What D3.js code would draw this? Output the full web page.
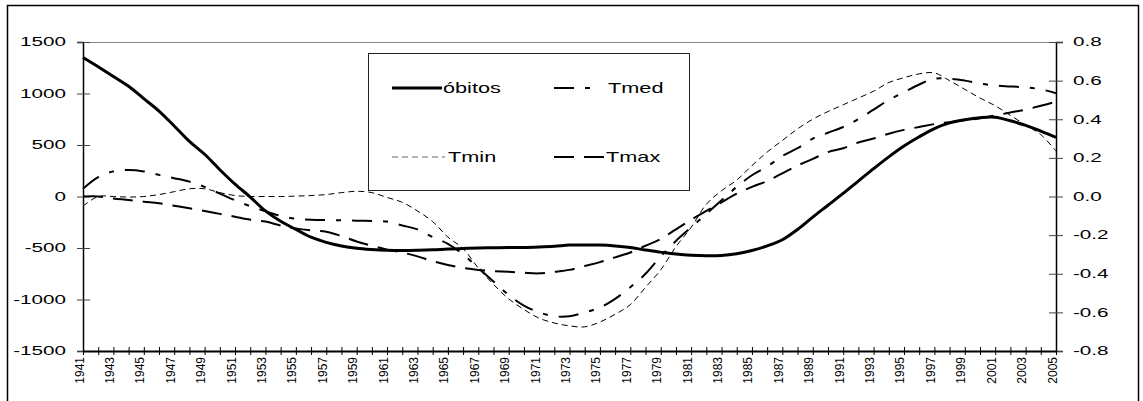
<!DOCTYPE html>
<html>
<head>
<meta charset="utf-8">
<script src="https://cdn.jsdelivr.net/npm/d3@7"></script>
<style>
  body { margin: 0; background: #fff; }
  text { font-family: "Liberation Sans", Arial, sans-serif; fill: #000; }
</style>
</head>
<body>
<svg id="chart" width="1143" height="401"></svg>
<script>
// years on the category axis
const years = d3.range(1941, 2006)

// deaths (left axis)
const obitos = [1350, 1260, 1165, 1070, 950, 830, 685, 535, 410, 260,
  120, -5, -140, -240, -320, -395, -445, -480, -503, -515,
  -522, -524, -522, -518, -510, -505, -500, -498, -496, -495,
  -490, -483, -472, -470, -472, -480, -495, -520, -540, -558,
  -570, -575, -572, -555, -525, -480, -420, -320, -200, -85,
  30, 150, 270, 385, 490, 580, 660, 715, 745, 765,
  770, 735, 690, 635, 575]

// temperature anomalies (right axis)
const tmed = [0.04, 0.10, 0.13, 0.137, 0.13, 0.112, 0.095, 0.077, 0.05, 0.015,
  -0.02, -0.05, -0.077, -0.10, -0.115, -0.12, -0.122, -0.123, -0.125, -0.127,
  -0.13, -0.15, -0.17, -0.21, -0.245, -0.30, -0.37, -0.44, -0.51, -0.565,
  -0.60, -0.62, -0.62, -0.60, -0.575, -0.53, -0.47, -0.40, -0.31, -0.23,
  -0.16, -0.09, -0.02, 0.05, 0.11, 0.155, 0.21, 0.25, 0.30, 0.33,
  0.36, 0.40, 0.45, 0.50, 0.54, 0.58, 0.61, 0.61, 0.60, 0.585,
  0.575, 0.57, 0.565, 0.555, 0.535]

const tmin = [-0.05, 0.0, 0.0, -0.003, 0.0, 0.01, 0.025, 0.04, 0.04, 0.02,
  0.005, 0.0, 0.0, 0.0, 0.002, 0.005, 0.01, 0.02, 0.027, 0.02,
  -0.005, -0.03, -0.075, -0.13, -0.21, -0.27, -0.37, -0.455, -0.53, -0.585,
  -0.63, -0.655, -0.67, -0.675, -0.65, -0.61, -0.56, -0.47, -0.38, -0.26,
  -0.16, -0.04, 0.03, 0.085, 0.16, 0.23, 0.29, 0.35, 0.40, 0.44,
  0.475, 0.51, 0.545, 0.59, 0.615, 0.635, 0.64, 0.60, 0.555, 0.51,
  0.47, 0.42, 0.37, 0.32, 0.235]

const tmax = [0.0, 0.0, -0.01, -0.018, -0.027, -0.035, -0.048, -0.061, -0.075, -0.09,
  -0.105, -0.12, -0.13, -0.15, -0.165, -0.175, -0.182, -0.205, -0.233, -0.255,
  -0.275, -0.29, -0.31, -0.335, -0.355, -0.37, -0.38, -0.386, -0.39, -0.395,
  -0.398, -0.39, -0.38, -0.36, -0.34, -0.315, -0.29, -0.255, -0.22, -0.17,
  -0.12, -0.075, -0.03, 0.015, 0.05, 0.08, 0.12, 0.16, 0.195, 0.23,
  0.25, 0.28, 0.30, 0.325, 0.345, 0.36, 0.375, 0.385, 0.395, 0.405,
  0.42, 0.435, 0.45, 0.47, 0.49]

const leftTicks = [-1500, -1000, -500, 0, 500, 1000, 1500]
const rightTicks = [-0.8, -0.6, -0.4, -0.2, 0.0, 0.2, 0.4, 0.6, 0.8]
const yearLabels = years.filter(y => (y - 1941) % 2 === 0)

const svg = d3.select('#chart')

// outer frame
svg.append('rect')
  .attr('x', 7.5).attr('y', 5.5).attr('width', 1131).attr('height', 402)
  .attr('fill', 'none').attr('stroke', '#000').attr('stroke-width', 1.5)

const plotLeft = 83
const plotRight = 1056
const plotTop = 42
const plotBottom = 351

const x = d3.scalePoint().domain(years).range([plotLeft, plotRight])
const yL = d3.scaleLinear().domain([-1500, 1500]).range([plotBottom, plotTop])
const yR = d3.scaleLinear().domain([-0.8, 0.8]).range([plotBottom, plotTop])

// top edge of plot area
svg.append('line')
  .attr('x1', plotLeft).attr('x2', plotRight).attr('y1', plotTop + 0.5).attr('y2', plotTop + 0.5)
  .attr('stroke', '#888').attr('stroke-width', 1)

// left axis
const gl = svg.append('g').attr('transform', `translate(${plotLeft},0)`)
  .call(d3.axisLeft(yL).tickValues(leftTicks).tickFormat('').tickSize(6))
gl.select('.domain').attr('stroke-width', 1.5)
gl.selectAll('.tick line').attr('x1', 7).attr('x2', -6).attr('stroke', '#444')

svg.selectAll('.lab-left')
  .data(leftTicks)
  .join('text')
  .attr('class', 'lab-left')
  .attr('transform', d => `translate(66,${yL(d)}) scale(1.72,1)`)
  .attr('text-anchor', 'end')
  .attr('dy', '0.36em')
  .style('font-size', '12px')
  .text(d => String(d))

// right axis
const gr = svg.append('g').attr('transform', `translate(${plotRight},0)`)
  .call(d3.axisRight(yR).tickValues(rightTicks).tickFormat('').tickSize(7))
gr.select('.domain').attr('stroke-width', 1.5)
gr.selectAll('.tick line').attr('x1', -7).attr('x2', 7).attr('stroke', '#444')

svg.selectAll('.lab-right')
  .data(rightTicks)
  .join('text')
  .attr('class', 'lab-right')
  .attr('transform', d => `translate(1073,${yR(d)}) scale(1.72,1)`)
  .attr('dy', '0.36em')
  .style('font-size', '12px')
  .text(d => d.toFixed(1))

// bottom axis
const gx = svg.append('g').attr('transform', `translate(0,${plotBottom})`)
  .call(d3.axisBottom(x).tickFormat('').tickSize(4).tickSizeOuter(0))
gx.select('.domain').attr('stroke-width', 2)
gx.selectAll('.tick line').attr('y1', -4).attr('y2', 4)

svg.selectAll('.lab-year')
  .data(yearLabels)
  .join('text')
  .attr('class', 'lab-year')
  .attr('transform', d => `translate(${x(d) + 0.5},357) rotate(-90)`)
  .attr('text-anchor', 'end')
  .style('font-size', '12px')
  .text(d => d)

// series
const series = [
  { name: 'óbitos', values: obitos, y: yL, width: 3, dash: null },
  { name: 'Tmed', values: tmed, y: yR, width: 2, dash: '20,11,5,11' },
  { name: 'Tmin', values: tmin, y: yR, width: 1, dash: '6,4' },
  { name: 'Tmax', values: tmax, y: yR, width: 2, dash: '20,10' }
]

series.forEach(s => {
  const line = d3.line()
    .x((d, i) => x(years[i]))
    .y(d => s.y(d))
    .curve(d3.curveCatmullRom.alpha(0.5))
  svg.append('path')
    .datum(s.values)
    .attr('d', line)
    .attr('fill', 'none')
    .attr('stroke', '#000')
    .attr('stroke-width', s.width)
    .attr('stroke-dasharray', s.dash)
})

// legend
svg.append('rect')
  .attr('x', 368.5).attr('y', 53.5).attr('width', 321).attr('height', 137)
  .attr('fill', '#fff').attr('stroke', '#222').attr('stroke-width', 1)

const legendPos = [
  { x1: 392, x2: 442, tx: 443, y: 88 },
  { x1: 554, x2: 592, tx: 608, y: 88 },
  { x1: 392, x2: 445, tx: 448, y: 157 },
  { x1: 554, x2: 605, tx: 606, y: 157 }
]

series.forEach((s, i) => {
  const p = legendPos[i]
  svg.append('line')
    .attr('x1', p.x1).attr('x2', p.x2).attr('y1', p.y).attr('y2', p.y)
    .attr('stroke', s.name === 'Tmin' ? '#666' : '#000')
    .attr('stroke-width', s.width)
    .attr('stroke-dasharray', s.dash)
  svg.append('text')
    .attr('transform', `translate(${p.tx},${p.y}) scale(1.55,1)`)
    .attr('dy', '0.36em')
    .style('font-size', '14px')
    .text(s.name)
})
</script>
</body>
</html>
